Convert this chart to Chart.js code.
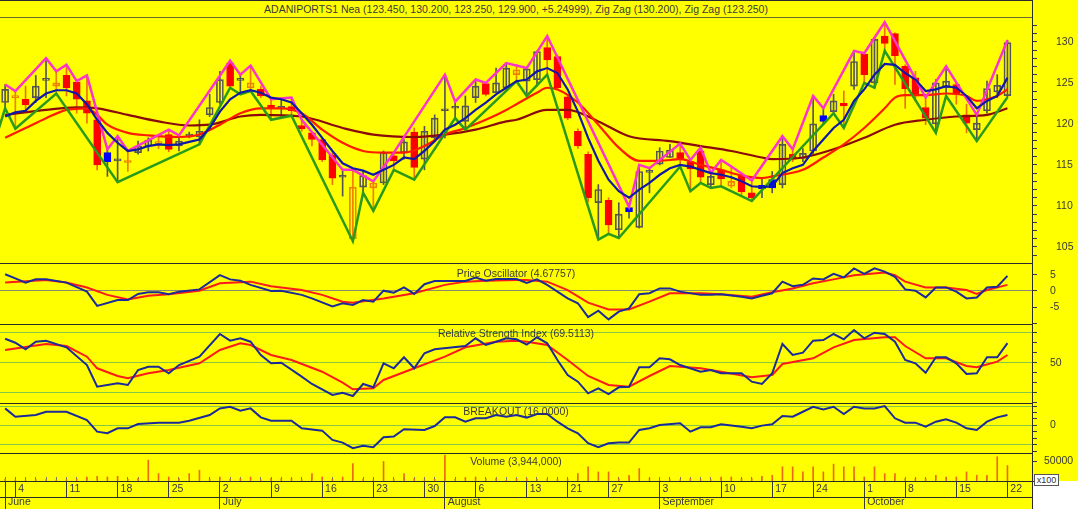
<!DOCTYPE html>
<html>
<head>
<meta charset="utf-8">
<script src="https://cdn.jsdelivr.net/npm/chart.js@4.4.0/dist/chart.umd.min.js"></script>
<style>
body { margin: 0; width: 1078px; height: 509px; overflow: hidden; position: relative; background: #fff;
       font-family: "Liberation Sans", Arial, sans-serif; }
.bg { position: absolute; background: #ffff00; }
canvas { position: absolute; left: 0; }
.lbl { position: absolute; font-size: 10.5px; line-height: 13px; color: #3a3a3a; white-space: nowrap; transform: translateX(-50%); }
.hl { position: absolute; left: 0; width: 1032px; height: 1px; background: #2a2a2a; }
.vl { position: absolute; left: 1032px; top: 0; width: 1px; height: 509px; background: #2a2a2a; }
.box { position: absolute; left: 1034px; top: 474px; width: 23px; height: 10px; border: 1px solid #555; background: #fff;
       font-size: 9px; line-height: 10px; color: #333; text-align: center; }
</style>
</head>
<body>
<div class="bg" style="left:0;top:0;width:1078px;height:481px"></div>
<div class="bg" style="left:0;top:481px;width:1032px;height:28px"></div>

<canvas id="price" width="1078" height="245" style="top:18px"></canvas>
<canvas id="osc" width="1078" height="61" style="top:263px"></canvas>
<canvas id="rsi" width="1078" height="79" style="top:324px"></canvas>
<canvas id="brk" width="1078" height="50" style="top:403px"></canvas>
<canvas id="vol" width="1078" height="56" style="top:453px"></canvas>

<div class="hl" style="top:0"></div>
<div class="hl" style="top:17px;background:#6a6a30"></div>
<div class="hl" style="top:263px"></div>
<div class="hl" style="top:324px"></div>
<div class="hl" style="top:403px"></div>
<div class="hl" style="top:453px"></div>
<div class="hl" style="top:481px"></div>
<div class="hl" style="top:497px"></div>
<div class="vl"></div>

<div class="lbl" style="left:516px;top:3px">ADANIPORTS1 Nea (123.450, 130.200, 123.250, 129.900, +5.24999), Zig Zag (130.200), Zig Zag (123.250)</div>
<div class="lbl" style="left:516px;top:267px">Price Oscillator (4.67757)</div>
<div class="lbl" style="left:516px;top:327px">Relative Strength Index (69.5113)</div>
<div class="lbl" style="left:516px;top:405px">BREAKOUT (16.0000)</div>
<div class="lbl" style="left:516px;top:455px">Volume (3,944,000)</div>
<div class="box">x100</div>

<script>
// trading days, June 1 .. October 22
const days = [1,4,5,6,7,8,11,12,13,14,15,18,19,20,21,22,25,26,27,28,29,
  2,3,4,5,6,9,10,11,12,13,16,17,18,19,20,23,24,25,26,27,30,31,
  1,2,3,6,7,8,9,10,13,14,16,17,21,22,23,24,27,28,29,30,31,
  3,4,5,6,7,8,10,11,12,13,14,17,18,20,21,24,25,26,27,28,
  1,3,4,5,8,9,10,11,12,15,16,17,18,19,22];
const weekTicks = [1,6,11,16,21,26,31,36,41,46,51,55,59,64,70,75,79,84,88,93,98];
const monthTicks = [0,21,43,64,84];
const monthNames = ['June','July','August','September','October'];

const open = [122.6,123.2,123.0,123.2,125.3,124.6,125.9,125.1,122.8,120.5,116.5,115.5,115.3,116.5,117.3,117.6,118.7,117.3,118.5,118.4,
  121.1,122.6,127.4,125.3,124.4,124.2,122.3,121.9,122.1,119.8,118.9,118.1,116.2,113.5,106.0,112.3,112.2,112.8,116.1,116.5,
  119.0,115.7,118.3,121.6,121.9,120.3,123.2,124.9,123.8,124.4,126.0,125.2,125.4,129.3,128.2,123.3,119.1,116.3,110.4,110.7,
  107.1,109.8,107.4,114.1,115.1,115.9,116.5,115.4,116.7,112.6,114.4,112.4,113.8,111.6,112.5,113.2,112.6,116.3,115.8,116.7,
  121.0,121.5,122.5,124.6,128.5,125.0,130.7,131.0,127.0,125.6,122.0,120.0,124.4,124.8,121.1,119.3,121.6,123.9,123.45];
const high = [124.8,124.0,124.6,125.9,128.0,126.4,127.2,125.2,125.9,120.9,116.9,118.5,116.7,117.9,118.3,118.6,119.3,118.6,119.0,120.5,
  123.6,126.4,127.7,126.0,127.1,124.6,123.0,123.0,123.2,120.5,119.1,118.3,116.5,114.4,114.4,114.2,113.0,116.7,116.5,118.1,
  119.5,119.7,121.1,126.0,122.7,123.4,125.4,125.0,126.8,127.4,127.2,126.8,128.9,130.7,128.4,123.6,119.4,116.6,112.6,111.0,
  110.4,109.9,115.0,114.6,117.1,117.5,117.6,115.6,117.1,114.0,115.6,114.8,114.0,113.1,113.4,114.2,118.5,116.9,117.0,123.4,
  121.9,123.6,124.0,128.9,128.6,130.5,132.4,131.1,127.2,126.4,123.2,125.4,127.0,125.0,122.4,121.1,125.2,126.0,130.2];
const low = [121.9,119.4,121.5,122.6,123.2,123.7,123.4,121.3,120.1,114.4,113.6,112.9,114.2,116.3,116.7,117.0,116.6,116.7,118.3,117.5,
  120.9,122.4,124.4,123.6,124.0,123.2,120.5,120.7,121.0,119.1,117.3,115.4,112.6,111.2,105.7,111.6,109.4,112.6,114.4,115.7,
  113.2,114.4,118.1,118.3,120.7,119.3,122.6,123.4,123.8,124.2,125.2,123.4,124.6,126.0,124.2,120.5,117.0,110.5,105.9,106.6,
  106.1,108.5,107.3,111.6,115.0,115.9,114.8,111.8,112.8,112.2,112.4,112.2,111.4,110.6,111.0,111.6,112.2,115.4,115.4,116.3,
  119.9,121.3,119.5,124.2,125.0,124.4,128.9,124.8,121.9,122.8,119.9,118.9,123.4,122.4,118.9,117.9,121.3,123.2,123.25];
const close = [124.2,123.35,122.3,124.6,125.5,125.0,124.4,123.0,121.3,115.0,115.4,115.7,115.45,117.3,118.0,117.8,116.9,117.9,118.7,119.1,
  122.0,125.4,124.6,125.5,125.0,123.4,121.9,122.1,121.6,119.4,118.1,115.6,113.4,113.7,112.3,113.7,112.8,116.5,115.5,117.8,
  114.7,119.1,120.7,121.8,122.1,122.2,124.6,123.6,125.0,126.8,126.6,126.7,128.8,127.8,124.4,120.7,117.3,111.0,112.0,107.7,
  109.0,109.3,114.2,114.3,116.7,116.8,115.7,114.5,113.5,113.6,113.3,113.0,111.7,111.0,112.1,112.2,117.5,115.7,116.4,120.0,
  120.3,122.8,122.2,127.6,126.0,130.3,129.8,128.3,124.3,123.4,120.7,125.0,125.2,123.6,120.1,120.1,124.3,124.7,129.9];

// zig zag turning points [index, value]
const zigHigh = [[0,124.8],[1,124.0],[4,128.0],[5,126.4],[6,127.2],[7,125.2],[8,125.9],[10,116.9],[11,118.5],[12,116.7],
  [16,119.3],[17,118.6],[22,127.7],[23,126.0],[24,127.1],[26,123.0],[28,123.2],[29,120.5],[33,114.4],[34,114.4],[36,113.0],
  [38,116.5],[43,126.0],[44,122.7],[46,125.4],[47,125.0],[49,127.4],[51,126.8],[53,130.7],[61,109.9],[62,115.0],[63,114.6],
  [66,117.6],[67,115.6],[68,117.1],[69,114.0],[70,115.6],[71,114.8],[73,113.1],[76,118.5],[77,116.9],[79,123.4],[80,121.9],
  [83,128.9],[84,128.6],[86,132.4],[90,123.2],[92,127.0],[95,121.1],[98,130.2]];
const zigLow = [[-1,117.9],[0,121.9],[1,119.4],[5,123.7],[11,112.9],[19,117.5],[22,124.4],[23,123.6],[24,124.0],[26,120.5],
  [28,121.0],[34,105.7],[35,111.6],[36,109.4],[38,114.4],[40,113.2],[44,120.7],[45,119.3],[50,125.2],[51,123.4],[53,126.0],
  [58,105.9],[59,106.6],[60,106.1],[66,114.8],[67,111.8],[68,112.8],[69,112.2],[70,112.4],[73,110.6],[81,121.3],[82,119.5],
  [84,125.0],[85,124.4],[86,128.9],[91,118.9],[92,123.4],[95,117.9],[98,123.25]];

// moving averages
const maFast = [120.9,121.4,121.6,122.8,123.7,124.1,124.1,123.7,122.4,120.5,118.9,117.7,116.7,116.9,117.3,117.5,117.4,117.5,117.8,118.1,
  119.5,121.5,123.0,123.8,124.1,123.8,123.2,123.0,122.6,121.3,119.9,118.3,116.7,115.2,114.6,114.3,113.8,114.4,115.0,115.9,
  115.7,116.7,117.9,119.3,119.9,120.7,121.7,122.6,123.6,124.4,125.2,125.4,126.4,126.8,126.2,124.2,121.5,118.3,115.5,113.2,
  111.8,111.0,112.0,112.8,113.8,114.6,115.0,114.8,114.4,114.0,113.8,113.5,113.0,112.4,112.3,112.4,114.0,114.6,115.0,116.7,
  118.1,119.5,120.5,122.8,124.2,126.0,127.3,127.2,126.2,125.4,124.0,124.2,124.6,124.4,123.4,121.9,122.8,123.4,125.6];
const maMid = [[0,118.3],[2,119.5],[4,120.7],[6,121.7],[8,121.9],[9,121.1],[10,119.9],[12,118.9],[14,118.6],[17,118.4],
  [19,118.7],[21,119.9],[23,121.3],[25,121.9],[27,121.9],[29,121.3],[31,119.3],[33,117.7],[35,116.7],[37,116.5],[39,116.5],
  [41,117.3],[43,118.7],[45,119.5],[47,120.5],[49,121.7],[50,122.4],[52,123.8],[53,124.4],[54,124.2],[56,122.6],[58,119.9],
  [60,117.1],[62,115.5],[64,115.5],[66,115.7],[68,115.0],[70,114.4],[72,113.7],[74,113.4],[75,113.6],[78,114.4],[80,115.9],
  [82,117.5],[84,119.5],[86,121.9],[87,123.2],[88,123.5],[90,123.5],[92,123.7],[94,123.4],[95,122.8],[96,123.0],[97,123.4],[98,124.2]];
const maSlow = [[0,121.1],[4,121.7],[7,122.0],[9,121.9],[12,121.1],[15,120.3],[18,119.8],[20,119.9],[23,120.9],[25,121.1],
  [29,120.9],[33,119.5],[36,118.7],[40,118.4],[43,118.7],[46,119.3],[49,120.3],[50,120.5],[53,121.7],[55,121.7],[58,120.3],
  [61,118.5],[65,117.9],[68,117.3],[71,116.7],[74,115.9],[75,115.7],[78,115.9],[81,116.9],[84,118.3],[87,119.9],[90,120.5],
  [93,120.9],[96,121.1],[98,121.9]];

// lower panels
const oscLine = [[0,5.2],[1,3.9],[2,2.6],[3,3.6],[4,3.6],[6,2.6],[8,-0.2],[9,-4.6],[11,-2.8],[12,-2.8],[13,-0.9],[14,-0.4],
  [15,-0.4],[16,-1.0],[17,-0.2],[19,0.5],[21,4.9],[22,3.6],[23,3.2],[24,1.9],[26,0.0],[27,0.1],[29,-1.2],[30,-2.3],[32,-4.8],
  [33,-3.8],[34,-4.3],[35,-2.8],[36,-3.3],[37,0.1],[38,-0.5],[39,1.1],[40,-0.9],[41,2.1],[42,3.1],[45,3.1],[46,4.2],[47,3.2],
  [48,3.7],[50,3.7],[51,2.5],[52,3.6],[53,1.9],[55,-2.3],[56,-3.8],[57,-8.1],[58,-6.1],[59,-8.8],[60,-6.4],[61,-5.4],[62,-1.0],
  [63,-0.7],[64,0.8],[65,0.8],[66,-0.2],[68,-1.2],[69,-1.2],[70,-1.0],[72,-1.8],[73,-2.3],[74,-1.5],[75,-0.7],[76,2.9],[77,1.5],
  [78,1.9],[79,3.9],[80,3.6],[81,5.3],[82,4.2],[83,7.0],[84,5.3],[85,7.0],[86,6.0],[87,4.4],[88,0.5],[89,0.1],[90,-2.0],[91,1.1],
  [92,1.1],[93,-0.2],[94,-2.3],[95,-2.0],[96,1.1],[97,1.3],[98,4.68]];
const oscSignal = [[0,2.6],[4,3.4],[6,2.6],[8,1.1],[10,-1.2],[12,-2.6],[14,-1.5],[16,-1.0],[19,0.1],[21,2.4],[24,2.9],[26,1.5],
  [29,0.3],[31,-1.2],[33,-3.3],[34,-3.6],[37,-2.3],[40,-0.7],[43,1.9],[45,2.9],[47,3.2],[50,3.4],[51,3.4],[53,2.9],[55,0.3],
  [57,-3.6],[59,-5.7],[61,-5.7],[63,-3.3],[65,-0.7],[68,-0.7],[70,-1.0],[73,-1.8],[75,-0.4],[77,0.8],[79,2.4],[81,3.6],[83,4.9],
  [86,5.7],[87,4.9],[88,2.9],[90,1.1],[92,1.1],[94,0.3],[95,-0.9],[96,0.3],[98,1.9]];
const rsiLine = [[0,74],[1,70],[2,63.4],[3,71],[4,72],[6,65.4],[8,47.7],[9,26],[11,29.4],[12,27.7],[13,42.7],[14,46],[15,46],
  [16,39.4],[17,47.7],[19,56],[21,78.7],[22,72],[23,74.4],[24,71],[25,57.7],[26,49.4],[27,50],[29,36],[30,28.7],[32,17.7],[33,20],
  [34,16.7],[35,28.7],[36,25.4],[37,49.4],[38,44.4],[39,55.4],[40,44.4],[41,59.4],[42,63.4],[45,66.7],[46,74.4],[47,67.7],[48,71],
  [49,74.4],[50,73.4],[51,68],[52,75.4],[53,69.4],[54,52.7],[55,37.7],[56,31],[57,19.4],[58,24.4],[59,18.7],[60,25.4],[61,26],
  [62,45.4],[63,45.4],[64,54.4],[65,53.4],[66,47.7],[68,41],[69,42.7],[70,39.4],[72,39.4],[73,31],[74,28.7],[75,39.4],[76,68.7],
  [77,57.7],[78,60],[79,72],[80,72.7],[81,78.7],[82,73.4],[83,82.7],[84,74.4],[85,80],[86,78.7],[87,71],[88,52.7],[89,49.4],
  [90,40],[91,55.4],[92,55.4],[93,49.4],[94,38.7],[95,39.4],[96,55.4],[97,55.4],[98,69.5]];
const rsiSignal = [[0,62.7],[4,68.7],[6,66.7],[8,56],[9,44.4],[11,36.7],[12,34.4],[14,39.4],[16,42.7],[19,49.4],[21,62.7],
  [23,69.4],[24,67.7],[26,57.7],[28,52.7],[31,41],[33,30],[34,23.4],[36,24.4],[37,32.7],[40,44.4],[43,56],[45,65.4],[48,71],
  [50,72],[51,71],[53,67.7],[55,52.7],[57,36.7],[59,27.7],[61,26],[63,36.7],[65,46.7],[68,44.4],[70,41],[73,35.4],[75,37.7],
  [76,48.7],[79,54.4],[81,65.4],[83,72.7],[86,75.4],[87,75.4],[88,66.7],[90,54.4],[92,54.4],[94,46.7],[95,45.4],[97,51],[98,57.7]];
const breakout = [[0,26.3],[1,13.4],[3,16.0],[4,21.1],[6,21.1],[8,8.2],[9,-9.9],[10,-12.4],[11,-4.7],[12,-4.7],[13,2.0],[15,4.1],
  [17,4.1],[18,7.2],[20,16.0],[21,26.3],[22,28.9],[23,22.7],[24,26.3],[25,12.4],[26,7.2],[28,7.2],[29,-4.7],[31,-8.3],[32,-22.8],
  [33,-26.9],[34,-35.7],[35,-32],[36,-34.1],[37,-18.6],[38,-17.6],[39,-6.2],[41,-7.3],[42,-1.1],[43,12.4],[44,12.4],[45,5.6],
  [46,10.9],[47,10.9],[48,16.0],[49,13.4],[50,16],[51,12],[52,17.5],[53,17.5],[54,5.6],[55,-4.7],[56,-12.4],[57,-27.9],[58,-34.1],
  [59,-27.9],[60,-26.9],[61,-26.9],[62,-7.3],[63,-4.7],[64,0.5],[66,3.1],[67,-9.9],[68,-3.1],[69,-3.1],[70,1.6],[72,-2.1],[73,-4.7],
  [74,-0.5],[75,1.6],[76,14.4],[77,13.4],[78,21.1],[79,28.9],[80,24.8],[81,28.9],[82,17.5],[83,28.9],[84,26.3],[85,26.3],[86,29.9],
  [87,10.9],[88,4.1],[89,4.1],[90,-2.1],[91,5.6],[92,9.3],[93,4.1],[94,-4.7],[95,-7.3],[96,5.6],[97,12.4],[98,16.0]];
// volume in hundreds
const volume = [4000,3000,2500,3500,3000,2500,3000,4500,10300,12000,10300,12000,4000,6000,53300,18900,10300,6000,18900,27500,
  4000,10300,4000,6000,10300,3000,6000,6000,6000,3000,18900,10300,4000,10300,44700,4000,3000,49800,4000,18900,
  6000,3000,4000,66100,4000,8600,10300,6000,6000,1700,6000,6000,4000,4000,4000,4000,18900,36100,23200,23200,
  6000,14600,31800,6000,1700,3000,3000,6000,3400,3000,10300,10300,6000,6000,12000,14600,36100,36100,23200,36100,
  23200,43000,36100,36100,10300,36100,18900,18900,6000,6000,6000,14600,10300,10300,23200,14600,14600,61800,39440];

const priceTicks = [104,105,106,107,108,109,110,111,112,113,114,115,116,117,118,119,120,121,122,123,124,125,126,127,128,129,130,131,132];
const oscTicks = [-10,-5,0,5];
const rsiTicks = [10,20,30,40,50,60,70,80];
const brkTicks = [-40,-30,-20,-10,0,10,20,30];
const volTicks = [0,50000];

Chart.defaults.animation = false;
Chart.defaults.font.family = '"Liberation Sans", Arial, sans-serif';
Chart.defaults.font.size = 10.5;
Chart.defaults.color = '#3a3a3a';
Chart.defaults.plugins.legend.display = false;
Chart.defaults.plugins.tooltip.enabled = false;
Chart.defaults.events = [];

const xHidden = { type: 'linear', min: -0.5, max: 100.4, offset: false, display: false };

function rightAxis(min, max, ticks, labelled, lines, lineColor, pad) {
  return {
    position: 'right', min: min, max: max,
    afterBuildTicks: s => { s.ticks = ticks.map(v => ({ value: v })); },
    afterFit: s => { s.width = 46; s.paddingTop = 0; s.paddingBottom = 0; },
    ticks: { autoSkip: false, padding: pad, callback: v => labelled.includes(v) ? String(v) : '' },
    grid: {
      color: c => (c.tick && lines.includes(c.tick.value)) ? lineColor : 'rgba(0,0,0,0)',
      tickColor: '#3a3a3a', tickLength: 5
    },
    border: { display: false }
  };
}

function pts(list) { return list.map(p => ({ x: p[0], y: p[1] })); }
function line(data, color, order, width) {
  return { type: 'line', data: data, borderColor: color, borderWidth: width || 2, pointRadius: 0, order: order, tension: 0 };
}
const baseOpts = { responsive: false, layout: { padding: 0 } };

// candle colours: hollow when close >= open, red/orange when close below previous close
function kind(i) {
  const up = close[i] >= open[i];
  const gain = i === 0 || close[i] >= close[i - 1];
  if (up) return gain ? 'dark' : 'orange';
  return gain ? 'blue' : 'red';
}
const fillOf = { dark: 'rgba(0,0,0,0)', orange: 'rgba(0,0,0,0)', red: '#ff0000', blue: '#0000ff' };
const edgeOf = { dark: '#555555', orange: '#f08000', red: '#ff0000', blue: '#0000ff' };
const wickOf = { dark: '#555555', orange: '#f08000', red: '#f07000', blue: '#555555' };

new Chart(document.getElementById('price'), {
  type: 'bar',
  data: {
    datasets: [
      { type: 'bar', data: open.map((o, i) => ({ x: i, y: [low[i], high[i]] })), grouped: false, barThickness: 1,
        backgroundColor: c => wickOf[kind(c.dataIndex)], order: 20 },
      { type: 'bar', data: open.map((o, i) => ({ x: i, y: [o, close[i]] })), grouped: false, barThickness: 7,
        minBarLength: 2, borderWidth: 1, borderSkipped: false,
        backgroundColor: c => fillOf[kind(c.dataIndex)], borderColor: c => edgeOf[kind(c.dataIndex)], order: 19 },
      Object.assign(line(pts(maSlow), '#8b0a0a', 8, 2.2), { cubicInterpolationMode: 'monotone' }),
      Object.assign(line(pts(maMid), '#ff1a00', 7, 2.2), { cubicInterpolationMode: 'monotone' }),
      line(maFast.map((v, i) => ({ x: i, y: v })), '#1018a8', 4, 2.2),
      line(pts(zigLow), '#2a9a1a', 5, 2.5),
      line(pts(zigHigh), '#ff33cc', 6, 2.5)
    ]
  },
  options: Object.assign({}, baseOpts, {
    scales: { x: xHidden, y: rightAxis(103.05, 132.9, priceTicks, [105, 110, 115, 120, 125, 130], [], '', 19) }
  })
});

new Chart(document.getElementById('osc'), {
  type: 'line',
  data: { datasets: [line(pts(oscLine), '#1a2a9a', 1), line(pts(oscSignal), '#ff1a1a', 2)] },
  options: Object.assign({}, baseOpts, {
    scales: { x: xHidden, y: rightAxis(-10.22, 8.67, oscTicks, [-5, 0, 5], [0], '#8c8c70', 13) }
  })
});

new Chart(document.getElementById('rsi'), {
  type: 'line',
  data: { datasets: [line(pts(rsiLine), '#1a2a9a', 1), line(pts(rsiSignal), '#ff1a1a', 2)] },
  options: Object.assign({}, baseOpts, {
    scales: { x: xHidden, y: rightAxis(9.7, 88.7, rsiTicks, [50], [20, 50, 80], '#86c846', 13) }
  })
});

new Chart(document.getElementById('brk'), {
  type: 'line',
  data: { datasets: [line(pts(breakout), '#1a2a9a', 1)] },
  options: Object.assign({}, baseOpts, {
    scales: { x: xHidden, y: rightAxis(-43.1, 34.7, brkTicks, [0], [-30, 0, 30], '#86c846', 13) }
  })
});

const axisTicks = weekTicks.concat(monthTicks).filter((v, i, a) => a.indexOf(v) === i).sort((a, b) => a - b);

new Chart(document.getElementById('vol'), {
  type: 'bar',
  data: {
    datasets: [{ data: volume.map((v, i) => ({ x: i, y: v })), grouped: false, barThickness: 1, backgroundColor: '#ee6a10' }]
  },
  options: Object.assign({}, baseOpts, {
    scales: {
      x: {
        type: 'linear', min: -0.5, max: 100.4, offset: false, position: 'bottom', weight: 1,
        afterBuildTicks: s => { s.ticks = axisTicks.map(v => ({ value: v })); },
        afterFit: s => { s.height = 16; s.paddingLeft = 0; s.paddingRight = 0; },
        ticks: { autoSkip: false, maxRotation: 0, align: 'start', padding: -14.6,
          callback: v => weekTicks.includes(v) ? ' ' + days[v] : '' },
        grid: { offset: false, drawOnChartArea: false, tickLength: 16, tickColor: '#3a3a3a' },
        border: { display: false }
      },
      x2: {
        type: 'linear', min: -0.5, max: 100.4, offset: false, position: 'bottom', weight: 2,
        afterBuildTicks: s => { s.ticks = monthTicks.map(v => ({ value: v })); },
        afterFit: s => { s.height = 12; s.paddingLeft = 0; s.paddingRight = 0; },
        ticks: { autoSkip: false, maxRotation: 0, align: 'start', padding: -13.2,
          callback: (v, i) => ' ' + monthNames[i] },
        grid: { offset: false, drawOnChartArea: false, tickLength: 12, tickColor: '#3a3a3a' },
        border: { display: false }
      },
      xd: {
        type: 'linear', min: -0.5, max: 100.4, offset: false, position: { y: 0 },
        afterBuildTicks: s => { s.ticks = days.map((d, i) => ({ value: i })); },
        ticks: { display: false },
        grid: { offset: false, drawOnChartArea: false, tickLength: -4, tickColor: '#7a7a60' },
        border: { display: false }
      },
      y: rightAxis(0, 71400, volTicks, [50000], [], '', 7)
    }
  })
});
</script>
</body>
</html>
